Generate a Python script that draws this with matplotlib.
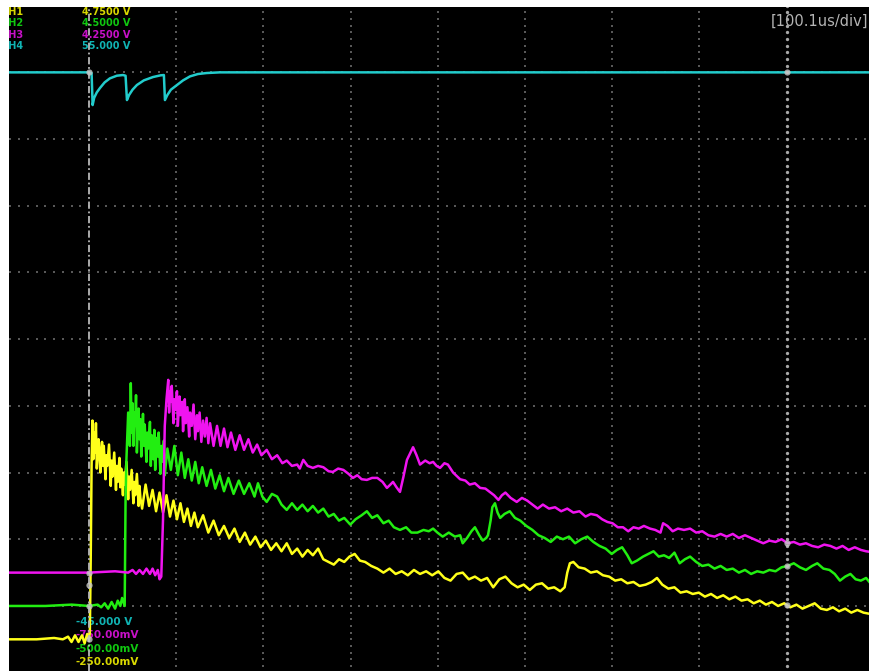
import numpy as np
import matplotlib
matplotlib.use('Agg')
import matplotlib.pyplot as plt

US_PER_DIV = 100.1

# channel setup: (name, colour, text colour, volts at bottom of screen, volts/div)
CH1 = ('CH1', '#ffff1a', '#d8d800', -0.25, 0.5)
CH2 = ('CH2', '#22ee11', '#10c810', -0.5, 0.5)
CH3 = ('CH3', '#f014f0', '#c810c8', -0.75, 0.5)
CH4 = ('CH4', '#22cccc', '#10b4b4', -45.0, 10.0)
top_labels = ['4.7500 V', '4.5000 V', '4.2500 V', '55.000 V']
bottom_labels = ['-45.000 V', '-750.00mV', '-500.00mV', '-250.00mV']

# CH1 (yellow): (time in us, volts)
ch1_points = [
    (-92, 0.0), (-60, 0.0), (-40, 0.01), (-30, 0.0), (-24, 0.02), (-20, -0.02), (-16, 0.03),
    (-12, -0.02), (-8, 0.03), (-5, -0.03), (-2, 0.04), (0, 0.0), (1, 0.05), (2, 0.6), (3, 1.3), (4, 1.64),
    (5, 1.35), (6, 1.55), (7, 1.40), (8, 1.62), (9, 1.28), (11, 1.50), (12, 1.42), (13, 1.25),
    (15, 1.48), (16, 1.30), (17, 1.45), (19, 1.20), (20, 1.38), (21, 1.30), (23, 1.46), (25, 1.15),
    (26, 1.34), (27, 1.22), (29, 1.40), (31, 1.12), (32, 1.30), (33, 1.18), (35, 1.36), (36, 1.14),
    (37, 1.28), (39, 1.08), (40, 1.25), (41, 1.16), (43, 1.33), (45, 1.05), (46, 1.22), (47, 1.12),
    (49, 1.27), (51, 1.02), (52, 1.18), (53, 1.08), (55, 1.24), (57, 1.00), (58, 1.15), (59, 1.06),
    (61, 0.98), (65, 1.16), (69, 1.00), (73, 1.12), (77, 0.96), (81, 1.10), (85, 0.95), (89, 1.08),
    (93, 0.92), (97, 1.04), (101, 0.90), (105, 1.02), (109, 0.88), (113, 0.98), (117, 0.85), (121, 0.95),
    (125, 0.84), (131, 0.93), (137, 0.80), (143, 0.89), (149, 0.78), (155, 0.85), (161, 0.76), (167, 0.83),
    (173, 0.73), (179, 0.80), (185, 0.71), (191, 0.77), (197, 0.69), (203, 0.74), (209, 0.67), (215, 0.72),
    (221, 0.66), (227, 0.72), (233, 0.64), (239, 0.68), (245, 0.62), (251, 0.67), (257, 0.63), (263, 0.68),
    (269, 0.60), (275, 0.58), (281, 0.56), (287, 0.60), (293, 0.58), (299, 0.62), (305, 0.64), (311, 0.59),
    (317, 0.58), (324, 0.55), (331, 0.53), (338, 0.50), (345, 0.53), (352, 0.49), (359, 0.51), (366, 0.48),
    (373, 0.52), (380, 0.49), (387, 0.51), (394, 0.48), (401, 0.51), (408, 0.46), (415, 0.44), (422, 0.49),
    (429, 0.50), (436, 0.45), (443, 0.47), (450, 0.44), (457, 0.46), (464, 0.39), (471, 0.45), (478, 0.47),
    (485, 0.42), (492, 0.39), (499, 0.41), (506, 0.37), (513, 0.41), (520, 0.42), (527, 0.38), (534, 0.39),
    (541, 0.36), (546, 0.39), (549, 0.50), (552, 0.57), (556, 0.58), (562, 0.54), (569, 0.53), (576, 0.50),
    (583, 0.51), (590, 0.48), (597, 0.47), (604, 0.44), (611, 0.45), (618, 0.42), (625, 0.43), (632, 0.40),
    (639, 0.41), (646, 0.43), (652, 0.46), (658, 0.41), (665, 0.38), (672, 0.39), (679, 0.35), (686, 0.36),
    (693, 0.34), (700, 0.35), (707, 0.32), (714, 0.34), (721, 0.31), (728, 0.33), (735, 0.30), (742, 0.32),
    (749, 0.29), (756, 0.30), (763, 0.27), (770, 0.29), (777, 0.26), (784, 0.28), (791, 0.25), (798, 0.27),
    (805, 0.24), (812, 0.26), (819, 0.23), (826, 0.25), (833, 0.27), (840, 0.23), (847, 0.22), (854, 0.24),
    (861, 0.21), (868, 0.23), (875, 0.20), (882, 0.22), (889, 0.20), (897, 0.19),
]

# CH2 (green)
ch2_points = [
    (-92, 0.0), (-50, 0.0), (-20, 0.01), (0, 0.0), (10, 0.01), (14, -0.01), (18, 0.02), (22, -0.02),
    (26, 0.03), (30, -0.02), (33, 0.04), (36, 0.0), (38, 0.06), (40, 0.02), (41, 0.0), (42, 0.8),
    (43, 1.1), (45, 1.45), (47, 1.2), (48, 1.67),
    (49, 1.30), (50, 1.52), (51, 1.20), (52, 1.45), (53, 1.35), (54, 1.58), (55, 1.15), (57, 1.48),
    (58, 1.25), (59, 1.40), (60, 1.12), (62, 1.44), (63, 1.20), (64, 1.36), (66, 1.08), (67, 1.30),
    (68, 1.18), (70, 1.38), (71, 1.05), (72, 1.28), (74, 1.10), (75, 1.32), (76, 1.02), (78, 1.26),
    (79, 1.12), (80, 1.30), (82, 0.99), (83, 1.20), (84, 1.08), (86, 1.24), (87, 0.98),
    (90, 1.18), (94, 1.02), (98, 1.20), (102, 0.98), (106, 1.15), (110, 0.96), (114, 1.10), (118, 0.94),
    (122, 1.08), (126, 0.92), (130, 1.04), (135, 0.90), (140, 1.02), (145, 0.88), (150, 0.98), (155, 0.86),
    (160, 0.96), (166, 0.84), (172, 0.94), (178, 0.84), (184, 0.92), (190, 0.82), (194, 0.92), (199, 0.82),
    (204, 0.78), (210, 0.84), (216, 0.82), (221, 0.76), (227, 0.72), (233, 0.77), (239, 0.72), (245, 0.76),
    (251, 0.71), (257, 0.75), (263, 0.70), (269, 0.73), (275, 0.67), (281, 0.69), (287, 0.64), (293, 0.66),
    (300, 0.61), (306, 0.65), (313, 0.68), (319, 0.71), (325, 0.66), (331, 0.68), (338, 0.62), (344, 0.64),
    (350, 0.59), (357, 0.57), (364, 0.59), (370, 0.55), (377, 0.55), (384, 0.57), (390, 0.56), (395, 0.58),
    (400, 0.55), (406, 0.52), (413, 0.55), (420, 0.52), (426, 0.53), (429, 0.47), (434, 0.51), (439, 0.56),
    (443, 0.59), (448, 0.53), (452, 0.49), (456, 0.51), (458, 0.53), (461, 0.64), (463, 0.74), (466, 0.77),
    (469, 0.70), (472, 0.66), (477, 0.69), (483, 0.71), (489, 0.66), (495, 0.64), (502, 0.60), (509, 0.57),
    (516, 0.53), (523, 0.51), (530, 0.48), (537, 0.52), (544, 0.50), (551, 0.52), (558, 0.47), (565, 0.50),
    (572, 0.52), (579, 0.48), (586, 0.45), (593, 0.43), (600, 0.39), (606, 0.42), (612, 0.44), (618, 0.38),
    (623, 0.32), (629, 0.34), (636, 0.37), (642, 0.39), (648, 0.41), (654, 0.37), (660, 0.38), (666, 0.36),
    (672, 0.40), (678, 0.32), (684, 0.35), (690, 0.37), (697, 0.33), (704, 0.30), (711, 0.31), (718, 0.28),
    (725, 0.30), (732, 0.27), (739, 0.28), (746, 0.25), (753, 0.27), (760, 0.24), (767, 0.26), (774, 0.25),
    (781, 0.27), (788, 0.26), (795, 0.29), (802, 0.30), (809, 0.32), (816, 0.29), (823, 0.27), (830, 0.30),
    (836, 0.32), (843, 0.28), (850, 0.27), (856, 0.24), (862, 0.19), (868, 0.22), (874, 0.24), (880, 0.20),
    (886, 0.19), (892, 0.21), (897, 0.17),
]

# CH3 (magenta)
ch3_points = [
    (-92, 0.0), (-40, 0.0), (0, 0.0), (30, 0.01), (45, 0.0), (50, 0.02), (54, -0.01), (58, 0.02),
    (62, -0.01), (66, 0.03), (70, -0.01), (73, 0.03), (76, -0.02), (79, 0.02), (81, -0.05), (83, -0.03),
    (85, 0.4), (87, 1.1), (89, 1.3), (91, 1.445),
    (92, 1.20), (93, 1.36), (94, 1.28), (95, 1.40), (97, 1.12), (98, 1.30), (99, 1.22), (101, 1.36),
    (102, 1.10), (104, 1.32), (105, 1.18), (107, 1.28), (108, 1.06), (110, 1.30), (111, 1.12), (113, 1.24),
    (115, 1.02), (116, 1.20), (118, 1.10), (120, 1.26), (122, 1.00), (124, 1.18), (125, 1.06), (127, 1.20),
    (129, 0.98), (131, 1.14), (133, 1.02), (135, 1.16), (137, 0.97), (139, 1.12),
    (143, 0.95), (147, 1.10), (151, 0.95), (155, 1.08), (159, 0.94), (163, 1.05), (168, 0.92), (173, 1.03),
    (178, 0.92), (183, 1.00), (188, 0.90), (193, 0.96), (198, 0.88), (204, 0.92), (210, 0.85), (216, 0.88),
    (222, 0.82), (227, 0.84), (233, 0.80), (239, 0.81), (242, 0.78), (246, 0.845), (251, 0.80), (257, 0.785),
    (263, 0.80), (269, 0.79), (275, 0.76), (280, 0.755), (286, 0.78), (292, 0.77), (298, 0.74), (303, 0.71),
    (308, 0.73), (313, 0.70), (319, 0.695), (325, 0.71), (331, 0.71), (337, 0.68), (342, 0.635), (346, 0.66),
    (349, 0.68), (353, 0.64), (357, 0.605), (361, 0.72), (365, 0.845), (369, 0.90), (372, 0.94), (376, 0.88),
    (380, 0.81), (386, 0.84), (391, 0.82), (395, 0.83), (399, 0.80), (403, 0.785), (408, 0.82), (412, 0.81),
    (418, 0.75), (426, 0.70), (432, 0.69), (437, 0.66), (443, 0.67), (449, 0.635), (455, 0.63), (460, 0.605),
    (465, 0.58), (470, 0.545), (474, 0.58), (478, 0.60), (484, 0.56), (491, 0.53), (497, 0.56), (503, 0.54),
    (509, 0.51), (515, 0.48), (521, 0.51), (528, 0.48), (535, 0.49), (542, 0.46), (549, 0.48), (556, 0.45),
    (563, 0.46), (570, 0.42), (576, 0.44), (583, 0.43), (589, 0.40), (595, 0.38), (601, 0.37), (607, 0.34),
    (613, 0.34), (619, 0.31), (625, 0.34), (631, 0.33), (637, 0.35), (644, 0.33), (650, 0.32), (656, 0.30),
    (659, 0.37), (664, 0.35), (670, 0.31), (676, 0.33), (683, 0.32), (690, 0.33), (697, 0.30), (704, 0.31),
    (711, 0.28), (718, 0.27), (725, 0.29), (732, 0.27), (739, 0.29), (746, 0.26), (753, 0.28), (760, 0.26),
    (767, 0.24), (774, 0.22), (781, 0.24), (788, 0.23), (795, 0.25), (802, 0.22), (809, 0.23), (816, 0.21),
    (823, 0.22), (830, 0.20), (837, 0.19), (844, 0.21), (851, 0.20), (858, 0.18), (865, 0.20), (872, 0.17),
    (879, 0.19), (886, 0.17), (892, 0.16), (897, 0.155),
]

# CH4 (cyan)
ch4_points = [
    (-92, 45.0), (-40, 45.0), (0, 45.0), (3, 44.9), (4.2, 40.1), (6, 41.2), (9, 42.0), (12.6, 42.65),
    (18, 43.5), (24, 44.1), (32, 44.5), (39, 44.6), (42, 44.5), (43.6, 40.85), (46, 41.6), (50, 42.4),
    (55, 43.1), (63, 43.8), (73.5, 44.3), (82, 44.55), (86, 44.6), (87.2, 40.85), (90, 41.6), (94, 42.4),
    (101, 43.1), (108, 43.8), (116, 44.4), (125, 44.75), (135, 44.9), (150, 45.0), (300, 45.0),
    (600, 45.0), (897, 45.0),
]

traces = [(CH1, ch1_points), (CH2, ch2_points), (CH3, ch3_points), (CH4, ch4_points)]
CURSOR_DIV = 8


def to_div(v, ch):
    return (np.asarray(v, dtype=float) - ch[3]) / ch[4]


fig = plt.figure(figsize=(8.7, 6.71), dpi=100)
ax = fig.add_axes([9 / 870, 0, 861 / 870, 664 / 671])
ax.set_facecolor('black')
ax.set_xticks([])
ax.set_yticks([])
for s in ax.spines.values():
    s.set_visible(False)
ax.set_xlim(-0.917 * US_PER_DIV, 8.956 * US_PER_DIV)
ax.set_ylim(0.025, 9.98)

# dotted graticule, 10 dots per division
dots_y = np.arange(0, 101) / 10
for k in range(-1, 10):
    if k in (0, CURSOR_DIV):
        continue
    ax.plot(np.full_like(dots_y, k * US_PER_DIV), dots_y, ls='none', marker='s',
            ms=1.5, mew=0, color='#585858', zorder=1)
dots_x = np.arange(-10, 91) * US_PER_DIV / 10
for j in range(0, 11):
    ax.plot(dots_x, np.full_like(dots_x, j), ls='none', marker='s',
            ms=1.5, mew=0, color='#585858', zorder=1)

# channel readouts
row_y = [9.906, 9.733, 9.561, 9.388]
for (ch, _), lab, y in zip(traces, top_labels, row_y):
    ax.text(-100, y, ch[0], color=ch[2], fontsize=7, fontweight='bold',
            va='center', ha='left', clip_on=True, zorder=2)
    ax.text(-8.0, y, lab, color=ch[2], fontsize=7, fontweight='bold',
            va='center', ha='left', zorder=2)

bot_y = [0.760, 0.558, 0.355, 0.153]
for ch, lab, y in zip([CH4, CH3, CH2, CH1], bottom_labels, bot_y):
    ax.text(-14.9, y, lab, color=ch[2], fontsize=7.5, fontweight='bold',
            va='center', ha='left', zorder=2)

ax.text(894, 9.771, '[100.1us/div]', color='#b4b4b4', fontsize=10.5,
        va='center', ha='right', zorder=2)

# waveforms
for ch, pts in traces:
    t, v = zip(*pts)
    ax.plot(t, to_div(v, ch), color=ch[1], lw=1.8, zorder=3,
            solid_joinstyle='round')

# trigger position and time cursor
ax.axvline(0, color='#b8b8b8', lw=1.3, ls=(0, (4, 1.5, 1, 1.5)), zorder=4)
ax.plot(np.full_like(dots_y, CURSOR_DIV * US_PER_DIV), dots_y, ls='none', marker='o',
        ms=2.4, mew=0, color='#a8a8a8', zorder=4)

# level markers on the trigger line and cursor crossings
tc = CURSOR_DIV * US_PER_DIV
for ch, pts in traces:
    t, v = zip(*pts)
    ax.plot(0, to_div(0 if ch is not CH4 else 45.0, ch), marker='o', ms=4.5,
            mew=0, color='#c8c8c8', alpha=0.8, zorder=5)
    ax.plot(tc, to_div(np.interp(tc, t, v), ch), marker='o', ms=4.5,
            mew=0, color='#c8c8c8', alpha=0.8, zorder=5)
ax.plot(0, 1.315, marker='o', ms=4.5, mew=0, color='#c8c8c8', alpha=0.8, zorder=5)

fig.savefig('out.png', dpi=100, facecolor='white')
